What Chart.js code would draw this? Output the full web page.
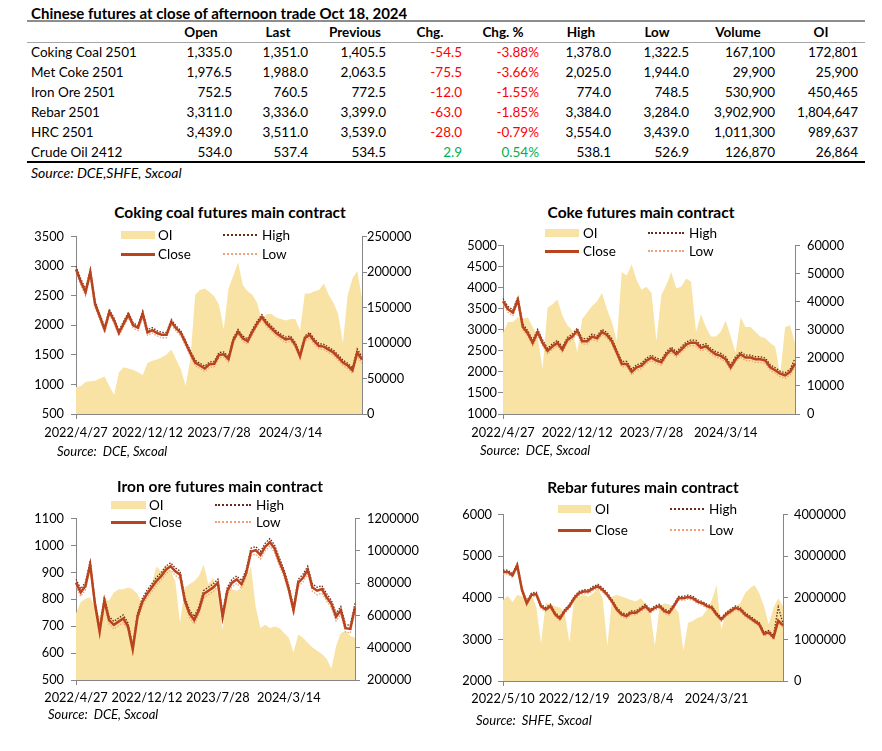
<!DOCTYPE html>
<html><head><meta charset="utf-8">
<script src="https://cdn.jsdelivr.net/npm/chart.js@4/dist/chart.umd.min.js"></script>
<style>
html,body{margin:0;padding:0;background:#fff;}
#page{position:relative;width:882px;height:751px;overflow:hidden;font-family:Lato,'Open Sans',sans-serif;color:#000;}
.t{position:absolute;white-space:pre;line-height:16px;transform:translateY(-50%);}
canvas{position:absolute}
.bx{position:absolute}
</style></head><body><div id="page"></div>
<script>
// ---------- table data ----------
const tableTitle = 'Chinese futures at close of afternoon trade Oct 18, 2024';
const columns = ['Open','Last','Previous','Chg.','Chg. %','High','Low','Volume','OI'];
const contracts = ['Coking Coal 2501','Met Coke 2501','Iron Ore 2501','Rebar 2501','HRC 2501','Crude Oil 2412'];
const openVals = [1335.0,1976.5,752.5,3311.0,3439.0,534.0];
const lastVals = [1351.0,1988.0,760.5,3336.0,3511.0,537.4];
const prevVals = [1405.5,2063.5,772.5,3399.0,3539.0,534.5];
const chgVals = [-54.5,-75.5,-12.0,-63.0,-28.0,2.9];
const chgPctVals = [-3.88,-3.66,-1.55,-1.85,-0.79,0.54];
const highVals = [1378.0,2025.0,774.0,3384.0,3554.0,538.1];
const lowVals = [1322.5,1944.0,748.5,3284.0,3439.0,526.9];
const volumeVals = [167100,29900,530900,3902900,1011300,126870];
const oiVals = [172801,25900,450465,1804647,989637,26864];
const tableSource = 'Source: DCE,SHFE, Sxcoal';

// ---------- chart data ----------
const ccTicks = ['2022/4/27','2022/12/12','2023/7/28','2024/3/14'];
const ccClose = [2950,2740,2560,2900,2360,2150,1930,2230,2080,1870,2030,2180,2000,1960,2200,1880,1920,1870,1840,1840,2060,1950,1870,1700,1530,1370,1320,1270,1340,1350,1500,1510,1430,1750,1890,1780,1730,1890,2030,2140,2030,1950,1870,1810,1760,1780,1670,1480,1780,1840,1730,1650,1640,1590,1540,1460,1370,1320,1240,1540,1420];
const ccHigh = [3000,2790,2610,2950,2410,2190,1980,2270,2120,1910,2070,2220,2040,2000,2240,1930,1960,1910,1880,1880,2100,1990,1910,1740,1570,1410,1360,1310,1380,1390,1540,1550,1470,1790,1930,1820,1770,1930,2070,2180,2070,1990,1910,1850,1800,1820,1710,1520,1820,1880,1770,1690,1680,1630,1580,1500,1410,1360,1280,1600,1470];
const ccLow = [2890,2680,2500,2840,2300,2100,1880,2180,2030,1820,1980,2130,1950,1910,2140,1830,1870,1820,1790,1790,2010,1900,1820,1650,1480,1320,1270,1220,1290,1300,1450,1460,1380,1700,1840,1730,1680,1840,1980,2090,1980,1900,1820,1760,1710,1730,1620,1430,1730,1790,1680,1600,1590,1540,1490,1410,1320,1270,1190,1480,1360];
const ccOI = [38000,39000,45000,46000,47000,50000,53000,39000,27000,59000,66000,64000,62000,59000,55000,72000,75000,77000,80000,84000,91000,77000,63000,40000,78000,168000,175000,177000,172000,166000,154000,120000,177000,195000,214000,182000,173000,168000,157000,132000,141000,141000,136000,134000,132000,134000,134000,118000,170000,170000,173000,175000,184000,168000,157000,141000,100000,168000,191000,202000,164000];

const ckTicks = ['2022/4/27','2022/12/12','2023/7/28','2024/3/14'];
const ckClose = [3680,3490,3410,3720,3070,2920,2690,2950,2690,2500,2610,2690,2530,2760,2840,2980,2730,2730,2840,2800,2950,2880,2730,2460,2190,2190,2000,2110,2150,2270,2340,2270,2230,2420,2530,2420,2530,2650,2700,2690,2570,2610,2500,2420,2380,2300,2110,2300,2420,2340,2340,2300,2300,2270,2110,2040,1960,1920,2000,2200];
const ckHigh = [3740,3560,3470,3780,3140,2980,2750,3010,2760,2560,2670,2750,2590,2820,2900,3040,2790,2790,2900,2860,3010,2940,2790,2520,2250,2250,2060,2170,2210,2330,2400,2330,2290,2480,2590,2480,2590,2710,2760,2750,2630,2670,2560,2480,2440,2360,2170,2360,2480,2400,2400,2360,2360,2330,2170,2100,2020,1980,2060,2320];
const ckLow = [3610,3420,3340,3650,3000,2850,2620,2880,2620,2430,2540,2620,2460,2690,2770,2910,2660,2660,2770,2730,2880,2810,2660,2390,2120,2120,1930,2040,2080,2200,2270,2200,2160,2350,2460,2350,2460,2580,2630,2620,2500,2540,2430,2350,2310,2230,2040,2230,2350,2270,2270,2230,2230,2200,2040,1970,1890,1850,1930,2120];
const ckOI = [29000,32800,32800,34500,33900,34500,31000,27600,16000,37900,39100,40800,35000,31600,29900,22000,33900,36200,38500,40200,43100,37400,32800,26000,50600,49400,53400,47700,44300,45400,43100,26000,42500,46000,50600,44800,45400,48300,47100,29300,35600,31000,27600,27600,29300,33300,27600,21800,34500,31000,31000,29300,27600,27000,25300,24100,13800,31000,31600,25300];

const ioTicks = ['2022/4/27','2022/12/12','2023/7/28','2024/3/14'];
const ioClose = [862,826,850,929,784,680,796,723,705,717,729,699,615,735,790,820,844,868,886,910,923,904,892,796,748,723,760,820,832,844,862,735,832,862,874,856,898,977,983,965,995,1013,989,941,898,838,760,862,880,910,844,832,838,808,784,735,760,693,690,770];
const ioHigh = [875,839,863,943,797,694,809,736,718,730,742,712,628,748,803,833,857,881,899,923,936,917,905,809,761,736,773,833,845,857,875,748,845,875,887,869,911,990,996,978,1008,1026,1002,954,911,851,773,875,893,923,857,845,851,821,797,748,773,706,703,785];
const ioLow = [847,811,835,914,769,665,781,708,690,702,714,684,600,720,775,805,829,853,871,895,908,889,877,781,733,708,745,805,817,829,847,720,817,847,859,841,883,962,968,950,980,998,974,926,883,823,745,847,865,895,829,817,823,793,769,720,745,678,675,755];
const ioOI = [612000,683000,703000,713000,653000,592000,700000,693000,743000,763000,763000,773000,763000,733000,673000,733000,793000,904000,874000,914000,874000,814000,552000,773000,793000,814000,844000,914000,793000,834000,733000,512000,773000,763000,753000,773000,834000,904000,653000,522000,542000,522000,532000,522000,492000,462000,371000,482000,462000,431000,401000,381000,361000,331000,270000,411000,492000,502000,472000,462000];

const rbTicks = ['2022/5/10','2022/12/19','2023/8/4','2024/3/21'];
const rbClose = [4620,4620,4540,4780,4190,3870,4070,4090,3800,3720,3800,3600,3500,3680,3800,3990,4110,4150,4150,4230,4280,4190,4070,3910,3720,3600,3560,3640,3640,3720,3800,3680,3760,3800,3680,3640,3800,3990,3990,4020,3990,3910,3870,3800,3760,3600,3480,3600,3680,3760,3720,3600,3520,3440,3360,3130,3170,3050,3450,3340];
const rbHigh = [4665,4665,4585,4825,4235,3915,4115,4135,3845,3765,3845,3645,3545,3725,3845,4035,4155,4195,4195,4275,4325,4235,4115,3955,3765,3645,3605,3685,3685,3765,3845,3725,3805,3845,3725,3685,3845,4035,4035,4065,4035,3955,3915,3845,3805,3645,3525,3645,3725,3805,3765,3645,3565,3485,3405,3175,3215,3095,3780,3385];
const rbLow = [4570,4570,4490,4730,4140,3820,4020,4040,3750,3670,3750,3550,3450,3630,3750,3940,4060,4100,4100,4180,4230,4140,4020,3860,3670,3550,3510,3590,3590,3670,3750,3630,3710,3750,3630,3590,3750,3940,3940,3970,3940,3860,3820,3750,3710,3550,3430,3550,3630,3710,3670,3550,3470,3390,3310,3080,3120,3000,3400,3290];
const rbOI = [1950000,2050000,1900000,2070000,2030000,1990000,2070000,1800000,900000,1870000,1840000,1800000,1760000,1640000,930000,1990000,2030000,2070000,2030000,2110000,2230000,1990000,850000,2030000,2070000,2030000,1990000,1950000,1910000,1990000,1870000,1680000,850000,1800000,1870000,1840000,1800000,1640000,730000,1400000,1440000,1520000,1560000,1720000,1950000,2310000,1240000,1680000,1760000,1800000,1870000,2110000,2230000,2310000,2110000,1800000,1360000,1760000,1990000,1800000];

// ---------- drawing ----------
const FONT = "Lato, 'Open Sans', sans-serif";
const C_OI = '#F8E3A4', C_CLOSE = '#B8431C', C_HIGH = '#6B2A18', C_LOW = '#F2A07A', AX = '#868686';
const page = document.getElementById('page');

function txt(s, x, y, st = {}, align = 'left') {
  const d = document.createElement('div');
  d.className = 't'; d.textContent = s; d.style.top = y + 'px';
  if (align === 'right') d.style.right = (882 - x) + 'px';
  else if (align === 'center') { d.style.left = x + 'px'; d.style.transform = 'translate(-50%,-50%)'; }
  else d.style.left = x + 'px';
  Object.assign(d.style, st);
  page.appendChild(d);
}
function box(x, y, w, h, st) {
  const d = document.createElement('div');
  d.className = 'bx';
  Object.assign(d.style, { left: x + 'px', top: y + 'px', width: w + 'px', height: h + 'px' }, st);
  page.appendChild(d);
}

// table
txt(tableTitle, 31, 13, { fontWeight: 'bold', fontSize: '15px' });
box(27, 20, 838, 2, { background: '#8d8d8d' });
box(27, 42, 838, 1, { background: '#a6a6a6' });
box(27, 161, 838, 2, { background: '#000' });
const headCenters = [201, 278, 355, 430, 503, 581, 657, 738, 821];
const colRights = [232, 308, 386, 462, 539, 611, 689, 775, 858];
columns.forEach((c, i) => txt(c, headCenters[i], 32, { fontWeight: 'bold', fontSize: '13.5px' }, 'center'));
const f1 = v => v.toLocaleString('en-US', { minimumFractionDigits: 1, maximumFractionDigits: 1 });
const f0 = v => v.toLocaleString('en-US');
contracts.forEach((name, r) => {
  const y = 52 + r * 20;
  const st = { fontSize: '13.5px' };
  txt(name, 31, y, st);
  const col = chgVals[r] < 0 ? '#FF0000' : '#00B050';
  const cells = [
    [f1(openVals[r]), null], [f1(lastVals[r]), null], [f1(prevVals[r]), null],
    [f1(chgVals[r]), col], [chgPctVals[r].toFixed(2) + '%', col],
    [f1(highVals[r]), null], [f1(lowVals[r]), null], [f0(volumeVals[r]), null], [f0(oiVals[r]), null]
  ];
  cells.forEach((c, i) => txt(c[0], colRights[i], y, Object.assign({}, st, c[1] ? { color: c[1] } : {}), 'right'));
});
txt(tableSource, 31, 173, { fontStyle: 'italic', fontSize: '14px' });

function legend(L) {
  const [sx1, sx2, stx, hx1, hx2, htx, y1, y2] = L;
  const st = { fontSize: '13.5px' };
  box(sx1, y1 - 4, sx2 - sx1, 8, { background: C_OI });
  txt('OI', stx, y1, st);
  box(hx1, y1 - 1, hx2 - hx1, 0, { borderTop: '2px dotted ' + C_HIGH });
  txt('High', htx, y1, st);
  box(sx1, y2 - 1.5, sx2 - sx1, 3, { background: C_CLOSE });
  txt('Close', stx, y2, st);
  box(hx1, y2 - 1, hx2 - hx1, 0, { borderTop: '2px dotted ' + C_LOW });
  txt('Low', htx, y2, st);
}

function makeChart(cfg) {
  const cv = document.createElement('canvas');
  cv.width = cfg.w; cv.height = cfg.h;
  cv.style.left = cfg.x + 'px'; cv.style.top = cfg.y + 'px';
  cv.style.width = cfg.w + 'px'; cv.style.height = cfg.h + 'px';
  page.appendChild(cv);
  const n = cfg.close.length;
  const labels = Array.from({ length: n }, (_, i) => (i % 15 === 0 && cfg.ticks[i / 15]) ? cfg.ticks[i / 15] : '');
  const tickFont = { family: FONT, size: 12.8 };
  const showTick = ctx => labels[ctx.index] ? AX : 'rgba(0,0,0,0)';
  new Chart(cv, {
    type: 'line',
    data: {
      labels,
      datasets: [
        { label: 'Close', data: cfg.close, yAxisID: 'y', borderColor: C_CLOSE, borderWidth: 2.5, pointRadius: 0, tension: 0, order: 1 },
        { label: 'Low', data: cfg.low, yAxisID: 'y', borderColor: C_LOW, borderWidth: 1.3, borderDash: [1.5, 1.5], pointRadius: 0, order: 2 },
        { label: 'High', data: cfg.high, yAxisID: 'y', borderColor: C_HIGH, borderWidth: 1.3, borderDash: [1.5, 1.5], pointRadius: 0, order: 3 },
        { label: 'OI', data: cfg.oi, yAxisID: 'y1', borderColor: 'rgba(0,0,0,0)', borderWidth: 0, backgroundColor: C_OI, fill: 'start', pointRadius: 0, order: 4 }
      ]
    },
    options: {
      responsive: false, animation: false, events: [],
      layout: { padding: { top: 10, left: 0, right: 0, bottom: 0 } },
      plugins: { legend: { display: false }, tooltip: { enabled: false }, title: { display: false } },
      scales: {
        x: {
          type: 'category', offset: false,
          border: { color: AX, width: 1 },
          grid: { drawOnChartArea: false, drawTicks: true, tickLength: 5, color: showTick, tickColor: showTick },
          ticks: { autoSkip: false, maxRotation: 0, minRotation: 0, padding: cfg.xpad, color: '#000', font: tickFont,
                   callback: (v, i) => labels[i] ? labels[i] : null },
          afterFit: s => { s.height = cfg.h - cfg.bottom; }
        },
        y: {
          position: 'left', min: cfg.yMin, max: cfg.yMax,
          border: { color: AX, width: 1 },
          grid: { drawOnChartArea: false, tickLength: 5, color: AX },
          ticks: { stepSize: cfg.yStep, padding: cfg.lpad, color: '#000', font: tickFont, callback: v => String(v) },
          afterFit: s => { s.width = cfg.wl; }
        },
        y1: {
          position: 'right', min: cfg.y1Min, max: cfg.y1Max,
          border: { color: AX, width: 1 },
          grid: { drawOnChartArea: false, tickLength: 5, color: AX },
          ticks: { stepSize: cfg.y1Step, padding: cfg.rpad, color: '#000', font: tickFont, callback: v => String(v) },
          afterFit: s => { s.width = cfg.wr; }
        }
      }
    }
  });
  txt(cfg.title, cfg.tx, cfg.ty, { fontWeight: 'bold', fontSize: '15.5px' }, 'center');
  legend(cfg.legend);
  txt(cfg.source, cfg.sx, cfg.sy, { fontStyle: 'italic', fontSize: '13px' });
}

makeChart({
  x: 20, y: 222, w: 400, h: 222, bottom: 414 - 222, wl: 56, wr: 58, xpad: 6, lpad: 7, rpad: 0,
  yMin: 500, yMax: 3500, yStep: 500, y1Min: 0, y1Max: 250000, y1Step: 50000,
  ticks: ccTicks, close: ccClose, high: ccHigh, low: ccLow, oi: ccOI,
  title: 'Coking coal futures main contract', tx: 230, ty: 212,
  legend: [121, 155, 158, 223, 257, 262, 235, 254],
  source: 'Source:  DCE, Sxcoal', sx: 57, sy: 451
});
makeChart({
  x: 446, y: 231, w: 400, h: 213, bottom: 414 - 231, wl: 57, wr: 51, xpad: 6, lpad: 1, rpad: 7,
  yMin: 1000, yMax: 5000, yStep: 500, y1Min: 0, y1Max: 60000, y1Step: 10000,
  ticks: ckTicks, close: ckClose, high: ckHigh, low: ckLow, oi: ckOI,
  title: 'Coke futures main contract', tx: 641, ty: 212,
  legend: [545, 579, 583, 648, 684, 689, 233, 251],
  source: 'Source:  DCE, Sxcoal', sx: 480, sy: 450
});
makeChart({
  x: 20, y: 504, w: 400, h: 206, bottom: 680 - 504, wl: 56, wr: 65, xpad: 5, lpad: 7, rpad: 7,
  yMin: 500, yMax: 1100, yStep: 100, y1Min: 200000, y1Max: 1200000, y1Step: 200000,
  ticks: ioTicks, close: ioClose, high: ioHigh, low: ioLow, oi: ioOI,
  title: 'Iron ore futures main contract', tx: 220, ty: 486,
  legend: [111, 146, 149, 215, 251, 256, 505, 522],
  source: 'Source:  DCE, Sxcoal', sx: 48, sy: 714
});
makeChart({
  x: 446, y: 501, w: 400, h: 210, bottom: 681 - 501, wl: 57, wr: 63, xpad: 5, lpad: 6, rpad: 6,
  yMin: 2000, yMax: 6000, yStep: 1000, y1Min: 0, y1Max: 4000000, y1Step: 1000000,
  ticks: rbTicks, close: rbClose, high: rbHigh, low: rbLow, oi: rbOI,
  title: 'Rebar futures main contract', tx: 643, ty: 487,
  legend: [558, 591, 595, 670, 704, 709, 509, 530],
  source: 'Source:  SHFE, Sxcoal', sx: 476, sy: 720
});
</script>
</body></html>
